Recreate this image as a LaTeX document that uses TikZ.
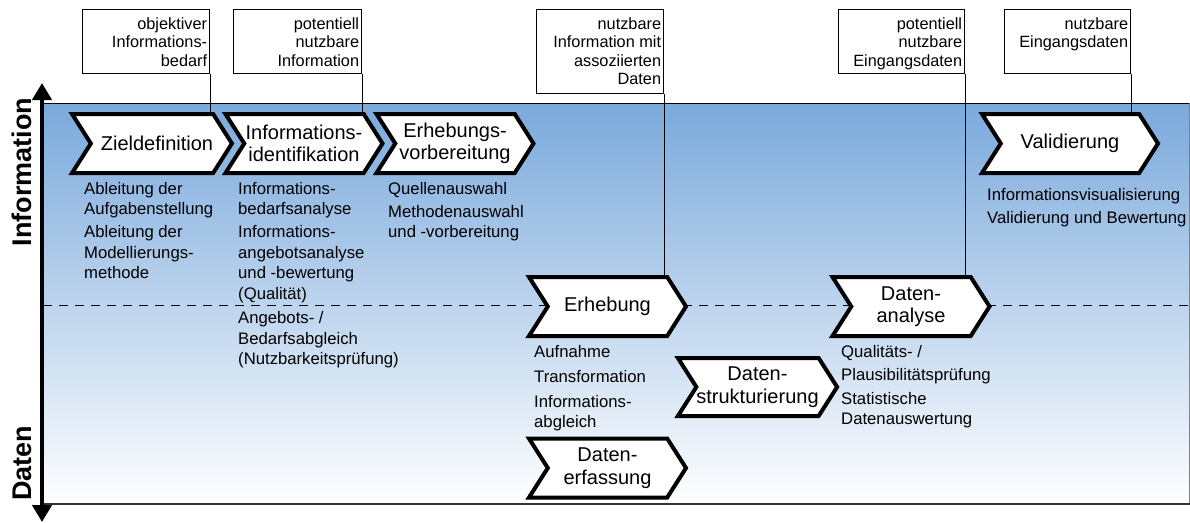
\documentclass[tikz,border=0pt]{standalone}
\usepackage{fontspec}
\setmainfont{Liberation Sans}
\usetikzlibrary{shapes.symbols,arrows.meta}
\definecolor{bgblue}{RGB}{122,169,220}

\begin{document}
\begin{tikzpicture}[x=1pt,y=-1pt,
    phase/.style={shape=signal, signal to=east, signal from=west, signal pointer angle=115,
        draw, line width=4pt, fill=white, minimum width=157pt, minimum height=59pt,
        align=center, inner sep=0pt, font=\fontsize{20}{22.5}\selectfont},
    desc/.style={anchor=north west, align=left, inner sep=0pt, font=\fontsize{16.7}{20.5}\selectfont},
    infobox/.style={draw, line width=1.3pt, anchor=north west, inner sep=0pt, fill=white},
    boxtext/.style={anchor=north east, align=right, inner sep=0pt, font=\fontsize{16.3}{18.5}\selectfont},
    axislabel/.style={rotate=90, font=\fontsize{27}{30}\selectfont\bfseries}]
    \useasboundingbox (0,0) rectangle (1190,522);
    % background
    \shade[top color=bgblue, middle color=bgblue!42!white, bottom color=white] (43,103) rectangle (1189,504);
    \draw[line width=1pt] (43,103) -- (1189,103);
    \draw[gray, line width=1pt] (1189,103) -- (1189,504);
    \draw[line width=2pt, black!80] (43,504) -- (1190,504);
    \draw[dash pattern=on 9pt off 7pt, line width=0.8pt] (43,305) -- (1190,305);
    % axis
    \draw[line width=4.5pt, {Triangle[length=17pt,width=19pt]}-{Triangle[length=17pt,width=19pt]}] (42,83) -- (42,522);
    \node[axislabel] (info) at (22,172) {Information};
    \node[axislabel] (daten) at (22,463) {Daten};

    % result boxes
    \node[infobox, minimum width=127pt, minimum height=64pt] (b1) at (82,9) {};
    \node[boxtext] (b1t) at ([shift={(-3,8)}]b1.north east) {objektiver\\Informations-\\bedarf};
    \node[infobox, minimum width=128pt, minimum height=64pt] (b2) at (233,9) {};
    \node[boxtext] (b2t) at ([shift={(-3,8)}]b2.north east) {potentiell\\nutzbare\\Information};
    \node[infobox, minimum width=127pt, minimum height=84pt] (b3) at (536,9) {};
    \node[boxtext] (b3t) at ([shift={(-3,8)}]b3.north east) {nutzbare\\Information mit\\assoziierten\\Daten};
    \node[infobox, minimum width=126pt, minimum height=64pt] (b4) at (838,9) {};
    \node[boxtext] (b4t) at ([shift={(-3,8)}]b4.north east) {potentiell\\nutzbare\\Eingangsdaten};
    \node[infobox, minimum width=126pt, minimum height=64pt] (b5) at (1004,9) {};
    \node[boxtext] (b5t) at ([shift={(-3,8)}]b5.north east) {nutzbare\\Eingangsdaten};

    % phases
    \node[phase] (ziel) at (152,143.5) {\hspace{10pt}Zieldefinition};
    \node[phase] (ident) at (304,143.5) {Informations-\\identifikation};
    \node[phase] (vorb) at (455,143.5) {Erhebungs-\\vorbereitung};
    \node[phase, minimum width=176pt] (valid) at (1070,143.5) {Validierung};
    \node[phase] (erheb) at (607.5,306.5) {Erhebung};
    \node[phase] (analyse) at (911,306.5) {Daten-\\analyse};
    \node[phase, minimum height=58pt] (struktur) at (757.5,387) {Daten-\\strukturierung};
    \node[phase] (erfass) at (607.5,468) {Daten-\\erfassung};

    % tasks
    \node[desc] (zielD) at (84,182) {Ableitung der\\Aufgabenstellung\\[2.5pt]Ableitung der\\Modellierungs-\\methode};
    \node[desc] (identD) at (238,182) {Informations-\\bedarfsanalyse\\[2.5pt]Informations-\\angebotsanalyse\\und -bewertung\\(Qualität)\\[4pt]Angebots- /\\Bedarfsabgleich\\(Nutzbarkeitsprüfung)};
    \node[desc] (vorbD) at (388,182) {Quellenauswahl\\[2.5pt]Methodenauswahl\\und -vorbereitung};
    \node[desc] (validD) at (987,188) {Informationsvisualisierung\\[2.5pt]Validierung und Bewertung};
    \node[desc] (erhebD) at (534,345) {Aufnahme\\[4.5pt]Transformation\\[4.5pt]Informations-\\abgleich};
    \node[desc] (analyseD) at (841,345) {Qualitäts- /\\[2.5pt]Plausibilitätsprüfung\\[3.5pt]Statistische\\Datenauswertung};

    % connectors
    \draw[line width=1.3pt] (b1.south east) -- (b1.south east |- ziel.north);
    \draw[line width=1.3pt] (b2.south east) -- (b2.south east |- ident.north);
    \draw[line width=1.3pt] (b3.south east) -- (b3.south east |- erheb.north);
    \draw[line width=1.3pt] (b4.south east) -- (b4.south east |- analyse.north);
    \draw[line width=1.3pt] (b5.south east) -- (b5.south east |- valid.north);
\end{tikzpicture}
\end{document}
